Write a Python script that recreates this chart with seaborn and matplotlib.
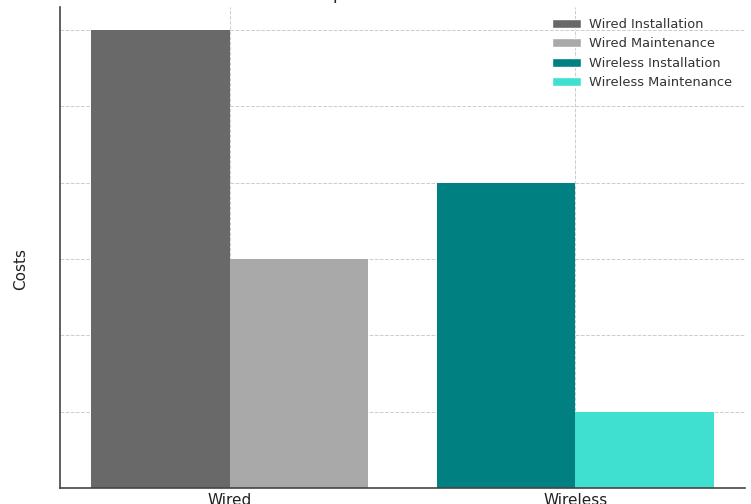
import numpy as np
import pandas as pd
import matplotlib
matplotlib.use("Agg")
import matplotlib.pyplot as plt
from matplotlib.patches import Patch
import seaborn as sns

# chart data
systems = ["Wired", "Wireless"]
installation = [6000, 4000]
maintenance = [3000, 1000]
series_labels = ["Wired Installation", "Wired Maintenance",
                 "Wireless Installation", "Wireless Maintenance"]
series_colors = ["#696969", "#A9A9A9", "#008080", "#40E0D0"]
y_ticks = [0, 1000, 2000, 3000, 4000, 5000, 6000]

df = pd.DataFrame({
    "System": systems * 2,
    "Cost type": ["Installation"] * 2 + ["Maintenance"] * 2,
    "Cost": installation + maintenance,
})

sns.set_style("white")
plt.rcParams["font.family"] = ["DejaVu Sans"]

fig, ax = plt.subplots(figsize=(7.51, 5.04), dpi=100)
fig.subplots_adjust(left=60 / 751, right=745 / 751, top=1 - 7 / 504, bottom=1 - 488 / 504)

sns.barplot(data=df, x="System", y="Cost", hue="Cost type", order=systems,
            hue_order=["Installation", "Maintenance"], width=0.8, dodge=True,
            linewidth=0, errorbar=None, ax=ax, legend=False, zorder=2)

# color each bar by system + cost type
bar_colors = {("Installation", 0): series_colors[0], ("Maintenance", 0): series_colors[1],
              ("Installation", 1): series_colors[2], ("Maintenance", 1): series_colors[3]}
for kind, container in zip(["Installation", "Maintenance"], ax.containers):
    for i, bar in enumerate(container):
        bar.set_facecolor(bar_colors[(kind, i)])
        bar.set_edgecolor("none")

ax.set_xlim(-0.49, 1.49)
ax.set_ylim(0, 6300)
ax.set_yticks(y_ticks)
ax.set_title("Cost Comparison: Wired vs Wireless", fontsize=12, pad=5.5)
ax.set_xlabel("")
ax.set_ylabel("Costs", fontsize=11, color="#222222")
ax.yaxis.set_label_coords(-0.046, 0.455)

ax.grid(True, linestyle="--", linewidth=0.7, color="#cccccc", zorder=0)
ax.set_axisbelow(True)
ax.tick_params(axis="x", direction="in", length=4, labelsize=11, labelcolor="#222222", colors="#444444")
ax.tick_params(axis="y", direction="in", length=4, labelcolor="white", colors="#444444")
for s in ["top", "right"]:
    ax.spines[s].set_visible(False)
for s in ["left", "bottom"]:
    ax.spines[s].set_color("#444444")
    ax.spines[s].set_linewidth(1.2)

handles = [Patch(facecolor=c, label=l) for c, l in zip(series_colors, series_labels)]
leg = ax.legend(handles=handles, loc="upper right", frameon=False, fontsize=9.4,
                bbox_to_anchor=(1 - 5 / 685, 1 - 3 / 481),
                handlelength=2.2, handleheight=0.7, handletextpad=0.6,
                borderaxespad=0.2, labelspacing=0.5)
for t in leg.get_texts():
    t.set_color("#333333")

fig.savefig("out.png", dpi=100)
